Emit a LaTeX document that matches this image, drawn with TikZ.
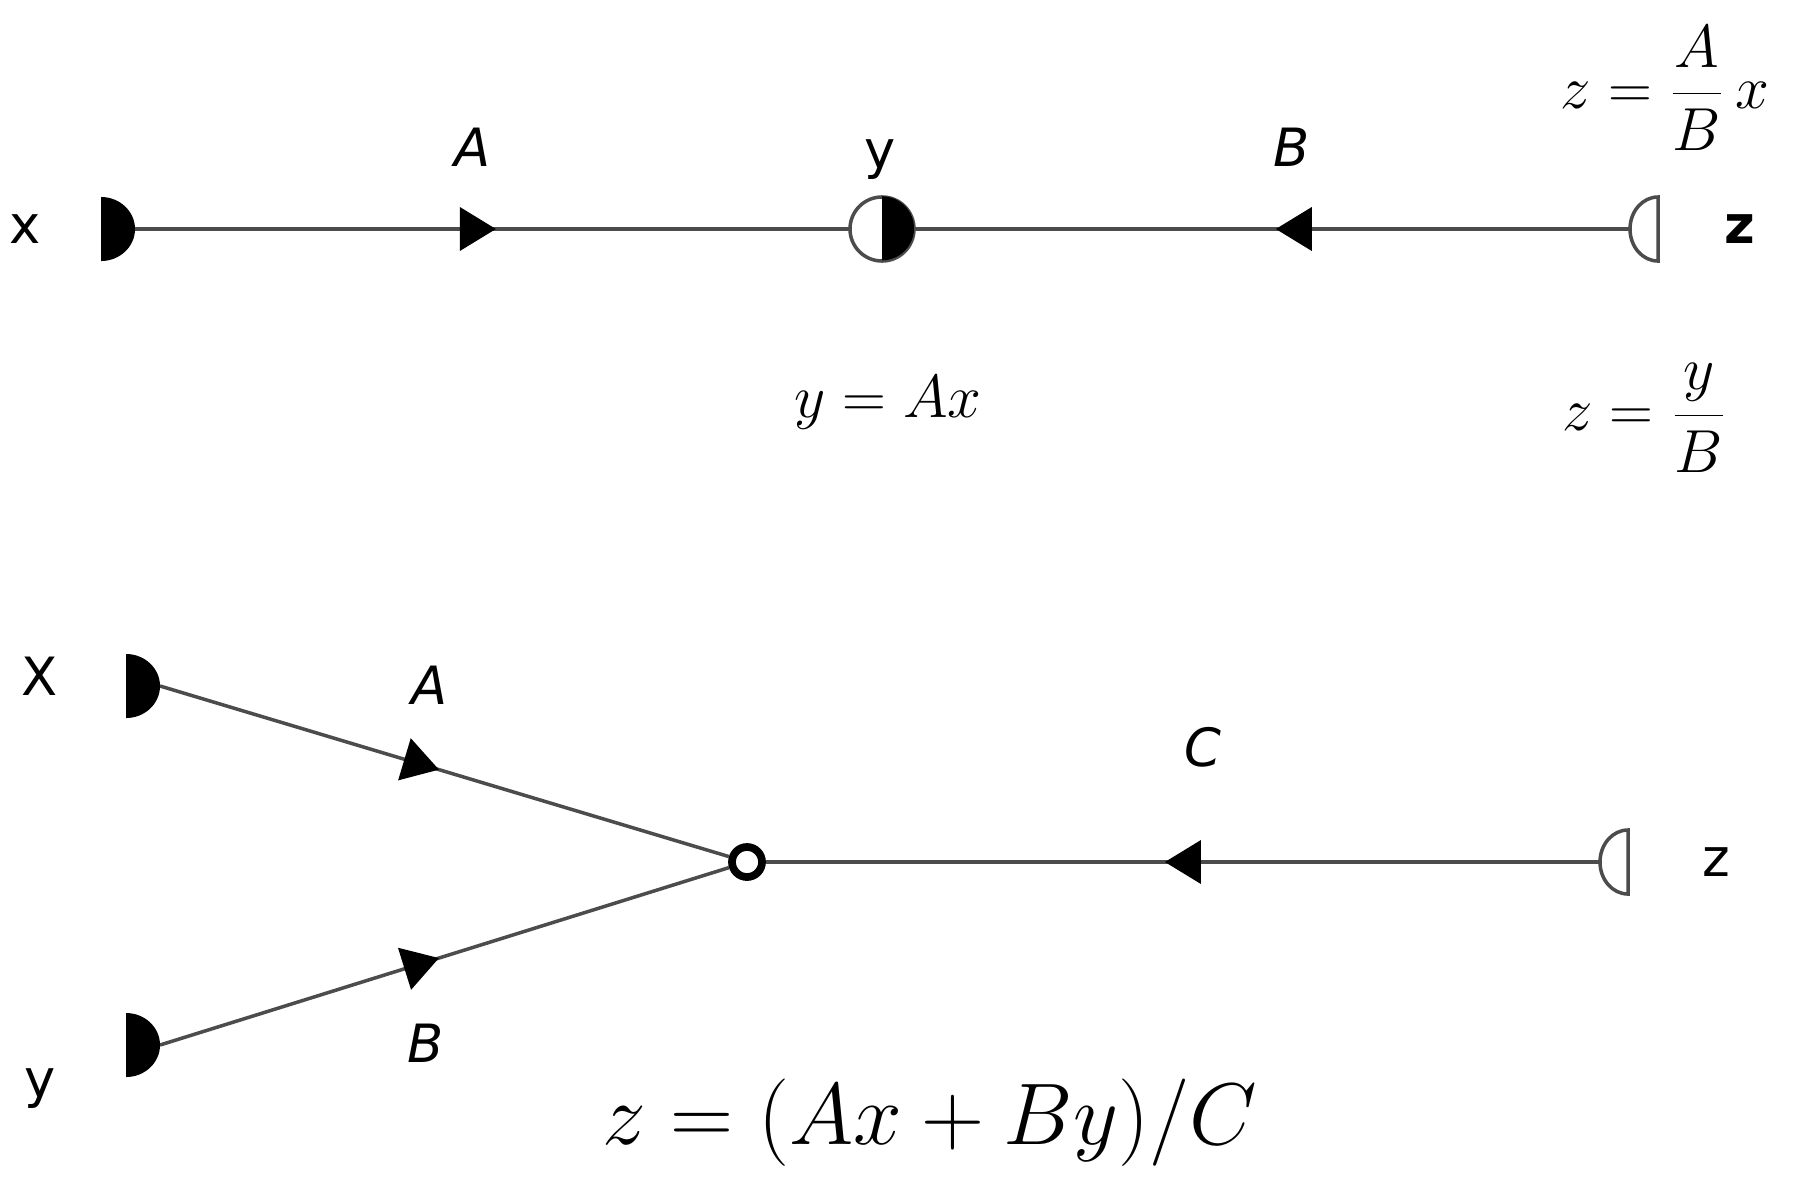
\documentclass[tikz,border=0pt]{standalone}
\usepackage{fontspec}
\newfontfamily\lab{DejaVu Sans}
\usetikzlibrary{calc,decorations.markings,arrows.meta}
\tikzset{
  conn/.style={draw=black!70, line width=1pt},
  tri/.style={postaction={decorate,decoration={markings,
     mark=at position #1 with {\fill[black] (0.18cm,0) -- (-0.18cm,0.22cm) -- (-0.18cm,-0.22cm) -- cycle;}}}},
  lbl/.style={font=\lab\fontsize{15pt}{17pt}\selectfont},
  ilbl/.style={font=\lab\itshape\fontsize{15pt}{17pt}\selectfont},
  eq/.style={font=\fontsize{19pt}{23pt}\selectfont},
}
\newcommand{\srcshape}[1]{\fill ($( #1)+(-34,-32)$) arc[start angle=90,end angle=-90,x radius=0.34cm,y radius=0.32cm] -- cycle;}
\newcommand{\snkshape}[1]{\draw[black!70,line width=1pt,fill=white] ($( #1)+(28,-32)$) arc[start angle=90,end angle=270,x radius=0.28cm,y radius=0.32cm] -- cycle;}
\begin{document}
\begin{tikzpicture}[x=0.01cm,y=-0.01cm]
\useasboundingbox (0,0) rectangle (1797,1182);
% top
\coordinate (x1) at (135,229);
\node[circle,minimum size=0.64cm,inner sep=0] (y1) at (882,229) {};
\coordinate (z1) at (1630,229);
\draw[conn,tri=0.48] (x1) -- (y1.west);
\draw[conn,tri=0.47] (z1) -- (y1.east);
\srcshape{x1}
\draw[black!70,line width=1pt,fill=white] (y1) circle[radius=0.32cm];
\fill (y1.north) arc[start angle=90,end angle=-90,radius=0.32cm] -- cycle;
\snkshape{z1}
\node[lbl] (lx1) at (25,229) {x};
\node[ilbl] (lA1) at (473,147) {A};
\node[lbl] (ly1) at (880,160) {y};
\node[ilbl] (lB1) at (1292,147) {B};
\node[lbl,font=\lab\bfseries\fontsize{15pt}{17pt}\selectfont] (lz1) at (1740,229) {z};
\node[eq] (e1) at (1665,88) {$\displaystyle z=\frac{A}{B}\,x$};
\node[eq] (e2) at (888,403) {$y=Ax$};
\node[eq] (e3) at (1645,418) {$\displaystyle z=\frac{y}{B}$};
% bottom
\coordinate (x2) at (160,686);
\coordinate (y2) at (160,1045);
\node[circle,draw=black,line width=2.2pt,minimum size=0.3cm,inner sep=0] (j) at (747,862) {};
\coordinate (z2) at (1600,862);
\draw[conn,tri=0.46] (x2) -- (j);
\draw[conn,tri=0.46] (y2) -- (j);
\draw[conn,tri=0.5] (z2) -- (j);
\srcshape{x2}
\srcshape{y2}
\snkshape{z2}
\node[lbl] (lx2) at (40,676) {X};
\node[lbl] (ly2) at (40,1089) {y};
\node[lbl] (lz2) at (1716,862) {z};
\node[ilbl] (lA2) at (430,685) {A};
\node[ilbl] (lB2) at (426,1043) {B};
\node[ilbl] (lC2) at (1203,747) {C};
\node[font=\fontsize{23pt}{28pt}\selectfont] (e4) at (930,1123) {$z=(Ax+By)/C$};
\end{tikzpicture}
\end{document}
